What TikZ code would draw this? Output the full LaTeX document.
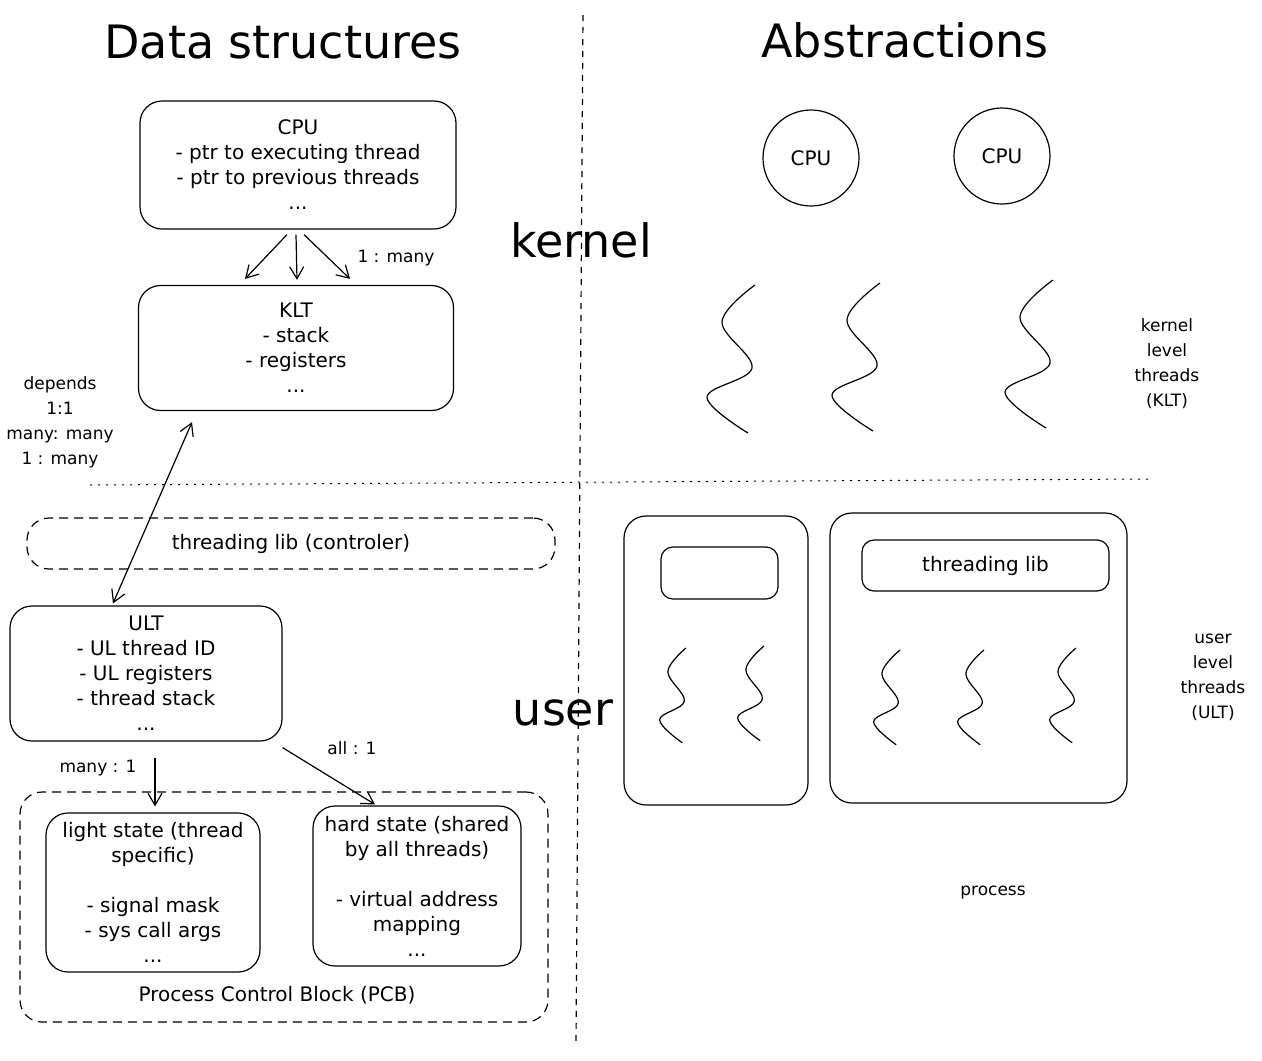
\documentclass[tikz,border=0pt]{standalone}
\usepackage{fontspec}
\setmainfont{DejaVu Sans}
\usetikzlibrary{positioning, arrows.meta}

\begin{document}
\begin{tikzpicture}[
		x=1pt, y=-1pt,
		line width=1.2pt,
		txt/.style={font=\fontsize{20}{25}\selectfont, align=center},
		small/.style={font=\fontsize{17}{25}\selectfont, align=center},
		title/.style={font=\fontsize{46}{50}\selectfont},
		block/.style={rectangle, draw, rounded corners=22pt, inner sep=0pt, txt},
		dashblock/.style={block, dash pattern=on 9pt off 6pt},
		circ/.style={circle, draw, minimum size=96pt, inner sep=0pt, txt},
		arrow/.style={-{Straight Barb[length=12pt, width=14pt]}},
		dblarrow/.style={{Straight Barb[length=12pt, width=14pt]}-{Straight Barb[length=12pt, width=14pt]}},
		wiggle/.pic={\draw plot[smooth, tension=0.6] coordinates {(0,0) (-33,37) (-3,83) (-48,112) (-7,148)};}
	]
		\path[use as bounding box, fill=white] (0,0) rectangle (1262,1061);
		
		\node[title] (ds) at (283,42) {Data structures};
		\node[title] (abs) at (905,40) {Abstractions};
		\draw[dash pattern=on 6pt off 6pt] (583,15) -- (576,1045);
		\draw[line width=1pt, dash pattern=on 2pt off 6pt] (90,485) -- (1148,479);
		\node[title] (kern) at (581,240) {kernel};
		\node[title] (usr) at (563,713) {user};
		
		\node[block, minimum width=316pt, minimum height=128pt] (cpu) at (298,165) {CPU\\- ptr to executing thread\\- ptr to previous threads\\...};
		\node[block, minimum width=315pt, minimum height=125pt] (klt) at (296,348) {KLT\\- stack\\- registers\\...};
		\node[small] (cpuklt) at (396,258) {1 : many};
		\node[small] (deps) at (60,422) {depends\\1:1\\many: many\\1 : many};
		
		\node[dashblock, minimum width=528pt, minimum height=51pt] (lib) at (291,543.5) {threading lib (controler)};
		\node[block, minimum width=272pt, minimum height=135pt] (ult) at (146,673.5) {ULT\\- UL thread ID\\- UL registers\\- thread stack\\...};
		\node[small] (manyone) at (98,768) {many : 1};
		\node[small] (allone) at (352,748) {all : 1};
		
		\node[dashblock, minimum width=528pt, minimum height=230pt] (pcb) at (284,907) {};
		\node[txt] (pcblabel) at (277,995) {Process Control Block (PCB)};
		\node[block, minimum width=214pt, minimum height=159pt] (light) at (153,892.5) {light state (thread\\specific)\\\\- signal mask\\- sys call args\\...};
		\node[block, minimum width=208pt, minimum height=160pt] (hard) at (417,886) {hard state (shared\\by all threads)\\\\- virtual address\\mapping\\...};
		
		\draw[arrow] ([xshift=-11pt, yshift=-5pt]cpu.south) -- ([xshift=-51pt, yshift=6pt]klt.north);
		\draw[arrow] ([xshift=-2pt, yshift=-5pt]cpu.south) -- ([xshift=1pt, yshift=5pt]klt.north);
		\draw[arrow] ([xshift=6pt, yshift=-5pt]cpu.south) -- ([xshift=54pt, yshift=6pt]klt.north);
		\draw[dblarrow] ([xshift=-33pt, yshift=2pt]ult.north) -- ([xshift=-104pt, yshift=-11pt]klt.south);
		\draw[arrow] ([xshift=9pt, yshift=-16pt]ult.south) -- ([xshift=2pt, yshift=6pt]light.north);
		\draw[arrow] ([yshift=-6pt]ult.south east) -- ([xshift=-42pt, yshift=1pt]hard.north);
		
		\node[circ] (cpua) at (811,158) {CPU};
		\node[circ] (cpub) at (1002,156) {CPU};
		\pic at (755,285) {wiggle};
		\pic at (880,283) {wiggle};
		\pic at (1053,280) {wiggle};
		\node[small] (kltlabel) at (1167,363.5) {kernel\\level\\threads\\(KLT)};
		
		\node[block, minimum width=184pt, minimum height=289pt] (proca) at (716,660.5) {};
		\node[block, minimum width=297pt, minimum height=290pt] (procb) at (978.5,658) {};
		\node[block, rounded corners=12pt, minimum width=117pt, minimum height=52pt] (liba) at (719.5,573) {};
		\node[block, rounded corners=12pt, minimum width=247pt, minimum height=51pt] (libb) at (985.5,565.5) {threading lib};
		\foreach \px/\py in {686/648, 764/646, 900/650, 984/650, 1076/648}
			\pic[xscale=0.55, yscale=0.64] at (\px,\py) {wiggle};
		\node[small] (ultlabel) at (1213,677.5) {user\\level\\threads\\(ULT)};
		\node[small] (proclabel) at (993,892) {process};
	\end{tikzpicture}
\end{document}
